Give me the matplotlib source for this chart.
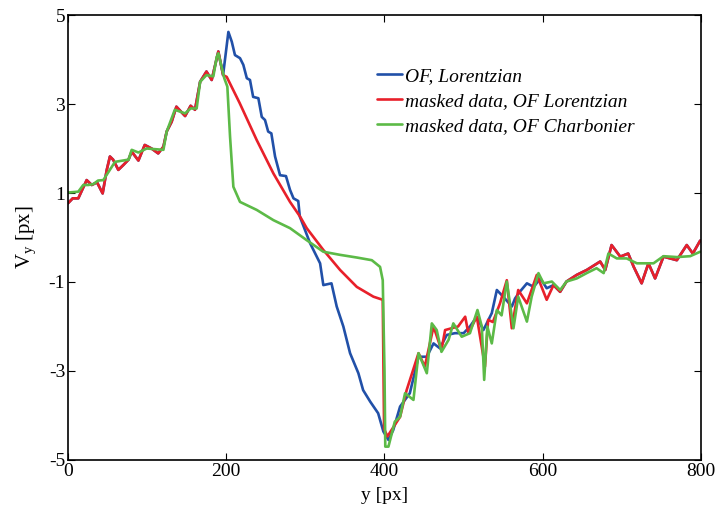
"""Vertical flow component V_y along y: OF vs masked-data reconstructions."""

import matplotlib

matplotlib.use("Agg")
import matplotlib.pyplot as plt

plt.rcParams["font.family"] = ["Liberation Serif", "DejaVu Serif"]
plt.rcParams["mathtext.fontset"] = "custom"
plt.rcParams["mathtext.rm"] = "Liberation Serif"
plt.rcParams["axes.unicode_minus"] = False

# shared noisy part (0..196) -- red and blue coincide here
shared_x = [0, 6, 13, 23.6, 30, 36.7, 43.8, 49, 53, 57, 63.6, 70, 76.5, 80.5, 89, 97, 105.6,
            114, 120.6, 124.7, 131, 137, 148, 155, 160.5, 167, 175, 181.6, 190, 196]
shared_y = [0.77, 0.88, 0.88, 1.29, 1.18, 1.24, 0.99, 1.52, 1.82, 1.75, 1.52, 1.63, 1.75, 1.93,
            1.73, 2.08, 2.00, 1.89, 2.04, 2.38, 2.60, 2.94, 2.73, 2.96, 2.87, 3.50, 3.73, 3.54,
            4.18, 3.65]

# OF, Lorentzian (blue) beyond the shared part
blue_x = [202.7, 207, 211, 217.4, 221.6, 226, 230, 234, 240.6, 244.9, 249, 253, 257, 261.7,
          268, 275.5, 280.6, 285, 291, 293, 306, 318.6, 322.7, 333, 339.6, 348, 356.5, 367,
          373, 382, 392, 398.6, 405, 411, 419.7, 432, 443, 453.5, 462, 470, 478.7, 489, 500,
          508, 516.7, 525, 535.6, 542, 550, 561, 565, 571, 580, 588.6, 597, 605]
blue_y = [4.62, 4.40, 4.10, 4.03, 3.88, 3.58, 3.54, 3.16, 3.13, 2.71, 2.64, 2.38, 2.34, 1.82,
          1.40, 1.38, 1.07, 0.88, 0.82, 0.47, -0.13, -0.58, -1.07, -1.03, -1.55, -2.00, -2.60,
          -3.05, -3.43, -3.69, -3.95, -4.36, -4.55, -4.33, -3.80, -3.50, -2.68, -2.68, -2.38,
          -2.49, -2.19, -2.15, -2.15, -2.00, -1.78, -2.08, -1.70, -1.18, -1.33, -1.55, -1.37,
          -1.22, -1.03, -1.11, -0.92, -1.14]

# masked data, OF Lorentzian (red) beyond the shared part
red_x = [200.6, 217, 238.5, 259.6, 280.6, 293.3, 301.7, 322.7, 343.9, 365, 386, 397.8, 399.5,
         403.7, 419.7, 428, 443, 451, 462, 472, 476.6, 493, 502, 506, 516.7, 527, 531, 537,
         546, 554.6, 560.9, 569, 580, 592.5, 605, 613.6, 622, 630, 643, 655.6, 672.6, 679,
         687, 698, 708, 715, 725, 733.6, 742, 752.6, 769.5, 782, 789.7, 799]
red_y = [3.61, 3.02, 2.19, 1.44, 0.80, 0.47, 0.21, -0.28, -0.73, -1.11, -1.33, -1.40, -4.30,
         -4.47, -4.03, -3.43, -2.60, -2.90, -2.00, -2.53, -2.08, -2.00, -1.78, -2.15, -1.78,
         -2.90, -1.85, -1.90, -1.48, -0.96, -2.04, -1.18, -1.48, -0.84, -1.40, -1.07, -1.22,
         -0.99, -0.84, -0.73, -0.54, -0.73, -0.17, -0.43, -0.36, -0.66, -1.03, -0.58, -0.92,
         -0.43, -0.51, -0.17, -0.36, -0.07]

# masked data, OF Charbonier (green), full range
green_x = [0, 13, 19.3, 25.7, 32, 38, 44.6, 59.4, 76.5, 80.5, 89, 99.5, 120.6, 124.7, 135,
           148, 155, 162.6, 167, 175, 183.7, 188, 190, 197.5, 201.4, 204.8, 209, 217.4, 238.5,
           259.6, 280.6, 301.7, 322.7, 343.9, 365, 384, 394.4, 397.8, 400, 401, 405, 413,
           419.7, 426, 436.6, 443, 453.5, 459.8, 466, 472, 481, 487, 497.6, 508, 517.5, 523,
           526, 530, 535.6, 542, 548, 554.6, 563, 569, 580, 586, 594.6, 601, 611.5, 622, 630,
           643, 655.6, 668, 677, 683, 693.6, 706, 719, 740, 752.6, 769.5, 786.3, 799]
green_y = [1.01, 1.03, 1.18, 1.18, 1.20, 1.28, 1.29, 1.70, 1.75, 1.97, 1.91, 2.00, 1.97, 2.38,
           2.87, 2.79, 2.90, 2.90, 3.50, 3.65, 3.62, 4.06, 4.14, 3.58, 3.39, 2.27, 1.14, 0.80,
           0.62, 0.39, 0.21, -0.06, -0.32, -0.39, -0.45, -0.51, -0.66, -0.96, -3.00, -4.70,
           -4.70, -4.14, -4.03, -3.50, -3.65, -2.60, -3.05, -1.93, -2.08, -2.57, -2.30, -1.93,
           -2.23, -2.15, -1.63, -2.00, -3.20, -2.00, -2.38, -1.63, -1.75, -0.99, -2.04, -1.33,
           -1.89, -1.33, -0.80, -1.03, -0.99, -1.18, -0.99, -0.92, -0.80, -0.69, -0.80, -0.36,
           -0.47, -0.47, -0.58, -0.58, -0.42, -0.44, -0.42, -0.32]

x_ticks = [0, 200, 400, 600, 800]
y_ticks = [-5, -3, -1, 1, 3, 5]

# blue follows red again once the flow is recovered (x > 610)
tail = [i for i, x in enumerate(red_x) if x > 610]
blue_full_x = shared_x + blue_x + [red_x[i] for i in tail]
blue_full_y = shared_y + blue_y + [red_y[i] for i in tail]
red_full_x = shared_x + red_x
red_full_y = shared_y + red_y

fig = plt.figure(figsize=(7.18, 5.09), dpi=100)
ax = fig.add_axes([0.0947, 0.0963, 0.8816, 0.8742])

line_kw = dict(linewidth=1.9, solid_joinstyle="round", solid_capstyle="round")
ax.plot(blue_full_x, blue_full_y, color="#2150a8", label="OF, Lorentzian", **line_kw)
ax.plot(red_full_x, red_full_y, color="#e8202a", label="masked data, OF Lorentzian", **line_kw)
ax.plot(green_x, green_y, color="#5cba47", label="masked data, OF Charbonier", **line_kw)

ax.set_xlim(0, 800)
ax.set_ylim(-5, 5)
ax.set_xticks(x_ticks)
ax.set_yticks(y_ticks)
ax.tick_params(direction="in", top=True, right=True, length=5, labelsize=14, pad=2)
for spine in ax.spines.values():
    spine.set_linewidth(1.2)

ax.set_xlabel("y [px]", fontsize=14, labelpad=5)
ax.set_ylabel(r"V$_\mathregular{y}$ [px]", fontsize=15, labelpad=7)

leg = ax.legend(loc="upper left", bbox_to_anchor=(0.476, 0.9), frameon=False,
                prop={"style": "italic", "size": 14}, handlelength=1.3, handletextpad=0.15,
                labelspacing=0.38, borderaxespad=0)

fig.savefig("out.png", dpi=100)
